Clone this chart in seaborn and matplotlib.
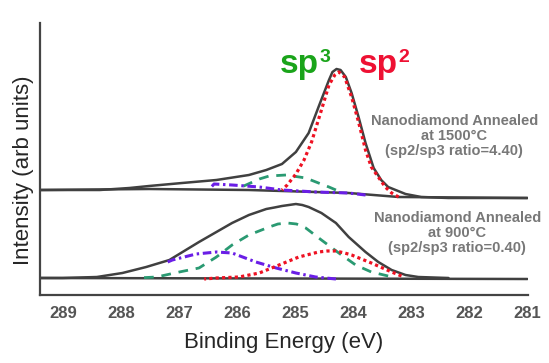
import numpy as np
import seaborn as sns
import matplotlib.pyplot as plt

# ---- upper spectrum: nanodiamond annealed at 1500 C ----
e_hi_env = [289.40, 288.37, 287.86, 287.52, 286.95, 286.36, 285.80, 285.50, 285.23, 284.99,
            284.77, 284.60, 284.42, 284.36, 284.29, 284.22, 284.13, 284.03, 283.91, 283.79,
            283.65, 283.52, 283.40, 283.10, 282.83, 282.36, 281.00]
i_hi_env = [1.05, 1.05, 1.07, 1.09, 1.12, 1.15, 1.20, 1.25, 1.31, 1.43,
            1.62, 1.88, 2.15, 2.23, 2.26, 2.25, 2.18, 2.02, 1.78, 1.52,
            1.27, 1.15, 1.08, 1.01, 0.98, 0.97, 0.97]
e_hi_bg = [289.40, 287.52, 285.80, 284.08, 283.22, 281.00]
i_hi_bg = [1.05, 1.06, 1.05, 1.02, 0.98, 0.97]
e_hi_sp2 = [285.23, 285.14, 284.99, 284.85, 284.72, 284.55, 284.42, 284.32, 284.25,
            284.15, 284.03, 283.91, 283.79, 283.69, 283.57, 283.45, 283.34, 283.22]
i_hi_sp2 = [1.05, 1.10, 1.21, 1.35, 1.53, 1.85, 2.10, 2.20, 2.23,
            2.18, 1.98, 1.73, 1.45, 1.28, 1.18, 1.08, 1.02, 0.98]
e_hi_sp3 = [285.97, 285.85, 285.62, 285.45, 285.16, 284.82, 284.60, 284.42, 284.30]
i_hi_sp3 = [1.07, 1.10, 1.16, 1.19, 1.20, 1.17, 1.12, 1.08, 1.05]
e_hi_co = [286.48, 286.40, 286.09, 285.62, 285.23, 284.65, 284.08, 283.79]
i_hi_co = [1.06, 1.11, 1.10, 1.08, 1.05, 1.03, 1.02, 1.00]

# ---- lower spectrum: nanodiamond annealed at 900 C ----
e_lo_env = [289.40, 289.01, 288.42, 287.98, 287.57, 287.17, 286.83, 286.66, 286.36, 286.09,
            285.80, 285.50, 285.36, 285.23, 285.11, 284.99, 284.88, 284.77, 284.66, 284.55,
            284.30, 284.08, 283.79, 283.57, 283.34, 283.10, 282.88, 282.36]
i_lo_env = [0.17, 0.17, 0.18, 0.22, 0.28, 0.35, 0.47, 0.53, 0.63, 0.72,
            0.80, 0.86, 0.875, 0.89, 0.90, 0.91, 0.90, 0.88, 0.85, 0.82,
            0.72, 0.58, 0.43, 0.33, 0.25, 0.20, 0.18, 0.17]
e_lo_bg = [289.40, 281.00]
i_lo_bg = [0.17, 0.16]
e_lo_sp3 = [287.74, 287.39, 287.00, 286.66, 286.36, 286.09, 285.80, 285.45, 285.30, 285.14,
            284.98, 284.82, 284.55, 284.25, 283.96, 283.69, 283.40]
i_lo_sp3 = [0.17, 0.18, 0.23, 0.27, 0.38, 0.50, 0.60, 0.68, 0.71, 0.72,
            0.71, 0.67, 0.55, 0.42, 0.30, 0.23, 0.19]
e_lo_co = [287.20, 287.12, 286.71, 286.36, 286.09, 285.68, 285.33, 284.99, 284.65, 284.30]
i_lo_co = [0.33, 0.35, 0.41, 0.43, 0.42, 0.33, 0.27, 0.22, 0.18, 0.16]
e_lo_sp2 = [286.57, 286.36, 285.97, 285.62, 285.28, 284.94, 284.60, 284.45, 284.30, 284.15,
            284.03, 283.69, 283.34, 283.17]
i_lo_sp2 = [0.16, 0.17, 0.18, 0.22, 0.30, 0.38, 0.43, 0.44, 0.44, 0.42,
            0.40, 0.32, 0.23, 0.19]

xticks = [289, 288, 287, 286, 285, 284, 283, 282, 281]

sns.set_style("white")
plt.rcParams['font.family'] = ['Liberation Sans', 'DejaVu Sans']

fig = plt.figure(figsize=(5.49, 3.63), dpi=100)
ax = fig.add_axes([40/549, 68/363, 488/549, 272/363])

line_col = '#404040'
red = '#ee1122'
green = '#2a9a72'
purple = '#6a1ee6'

for e, i in [(e_hi_env, i_hi_env), (e_hi_bg, i_hi_bg), (e_lo_env, i_lo_env), (e_lo_bg, i_lo_bg)]:
    sns.lineplot(x=e, y=i, ax=ax, color=line_col, lw=1.8)

for e, i in [(e_hi_sp3, i_hi_sp3), (e_lo_sp3, i_lo_sp3)]:
    sns.lineplot(x=e, y=i, ax=ax, color=green, lw=2.0, linestyle=(0, (3.5, 2.8)))
for e, i in [(e_hi_co, i_hi_co), (e_lo_co, i_lo_co)]:
    sns.lineplot(x=e, y=i, ax=ax, color=purple, lw=2.2, linestyle=(0, (2.8, 1.2, 0.8, 1.2)))
for e, i in [(e_hi_sp2, i_hi_sp2), (e_lo_sp2, i_lo_sp2)]:
    sns.lineplot(x=e, y=i, ax=ax, color=red, lw=2.3, linestyle=(0, (1, 1)))

ax.set_xlim(289.4, 280.99)
ax.set_ylim(0, 2.72)
ax.set_xticks(xticks)
ax.set_xticklabels([str(t) for t in xticks], fontsize=12, fontweight='bold', color='#555555')
ax.set_xticks(np.arange(281.5, 289.0, 1.0), minor=True)
ax.set_yticks([])
ax.tick_params(axis='x', which='major', direction='in', length=8, width=1.5, color='#444444', pad=8)
ax.tick_params(axis='x', which='minor', direction='in', length=4, width=1.2, color='#444444')

for s in ['top', 'right']:
    ax.spines[s].set_visible(False)
for s in ['left', 'bottom']:
    ax.spines[s].set_color('#444444')
    ax.spines[s].set_linewidth(1.6)

ax.set_xlabel('Binding Energy (eV)', fontsize=16)
ax.xaxis.set_label_coords(0.5, -0.135)
ax.set_ylabel('Intensity (arb units)', fontsize=16)
ax.yaxis.set_label_coords(-0.012, 0.46)

# sp3 / sp2 labels
t3 = ax.text(285.27, 2.22, 'sp', color='#1aa41a', fontsize=24, fontweight='bold')
ax.annotate('3', xy=(1, 0), xycoords=t3, xytext=(0.5, 13), textcoords='offset points',
            color='#1aa41a', fontsize=14, fontweight='bold')
t2 = ax.text(283.91, 2.22, 'sp', color='#ee1133', fontsize=24, fontweight='bold')
ax.annotate('2', xy=(1, 0), xycoords=t2, xytext=(0.5, 13), textcoords='offset points',
            color='#ee1133', fontsize=14, fontweight='bold')

ax.text(282.26, 1.59, 'Nanodiamond Annealed\nat 1500\u00b0C\n(sp2/sp3 ratio=4.40)',
        ha='center', va='center', fontsize=10.5, fontweight='bold', color='#787878',
        linespacing=1.05)
ax.text(282.21, 0.62, 'Nanodiamond Annealed\nat 900\u00b0C\n(sp2/sp3 ratio=0.40)',
        ha='center', va='center', fontsize=10.5, fontweight='bold', color='#787878',
        linespacing=1.05)

fig.savefig('out.png', dpi=100)
